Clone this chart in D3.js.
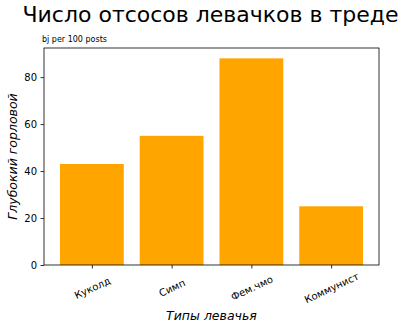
<!DOCTYPE html>
<html><head><meta charset="utf-8">
<script src="https://cdn.jsdelivr.net/npm/d3@7"></script>
<style>body{margin:0;background:#fff}svg{display:block}text{font-family:"DejaVu Sans",sans-serif}</style>
</head><body><svg id="c" width="406" height="330"></svg>
<script>
const categories = ["Куколд","Симп","Фем.чмо","Коммунист"];
const values = [43, 55, 88, 25];
const yTicks = [0,20,40,60,80];

const svg = d3.select("#c");
const m = {l:44, r:379, t:48, b:265};
const x = d3.scaleLinear().domain([-0.6, 3.6]).range([m.l, m.r]);
const y = d3.scaleLinear().domain([0, 92.4]).range([m.b, m.t]);

svg.selectAll("rect.bar").data(values).enter().append("rect")
  .attr("x",(d,i)=>x(i-0.4)).attr("width",(d,i)=>x(i+0.4)-x(i-0.4))
  .attr("y",d=>y(d)).attr("height",d=>y(0)-y(d)).attr("fill","#ffa500");

const yAxis = svg.append("g").attr("transform",`translate(${m.l},0)`)
  .call(d3.axisLeft(y).tickValues(yTicks).tickSize(3.5).tickPadding(3.5));
const xAxis = svg.append("g").attr("transform",`translate(0,${m.b})`)
  .call(d3.axisBottom(x).tickValues(d3.range(categories.length)).tickFormat(i=>categories[i]).tickSize(3.5).tickPadding(3.5));
[yAxis,xAxis].forEach(g=>{g.select(".domain").remove();g.selectAll("text").attr("font-size",10).attr("fill","#000").attr("font-family","DejaVu Sans");g.selectAll("line").attr("stroke","#000").attr("stroke-width",0.8);});
xAxis.selectAll("text").attr("text-anchor","middle").attr("dy","0.35em").attr("y",0)
  .attr("transform","translate(0,23) rotate(-25)");

svg.append("rect").attr("x",m.l).attr("y",m.t).attr("width",m.r-m.l).attr("height",m.b-m.t)
  .attr("fill","none").attr("stroke","#000").attr("stroke-width",0.8);

svg.append("text").attr("x",(m.l+m.r)/2-1).attr("y",22).attr("text-anchor","middle")
  .attr("font-size",22).text("Число отсосов левачков в треде");
svg.append("text").attr("x",42).attr("y",42).attr("font-size",8).attr("font-family","Liberation Sans").text("bj per 100 posts");
svg.append("text").attr("x",(m.l+m.r)/2).attr("y",320).attr("text-anchor","middle")
  .attr("font-size",12.5).attr("font-style","italic").text("Типы левачья");
svg.append("text").attr("transform",`translate(17,${(m.t+m.b)/2}) rotate(-90)`).attr("text-anchor","middle")
  .attr("font-size",12.5).attr("font-style","italic").text("Глубокий горловой");
</script></body></html>
